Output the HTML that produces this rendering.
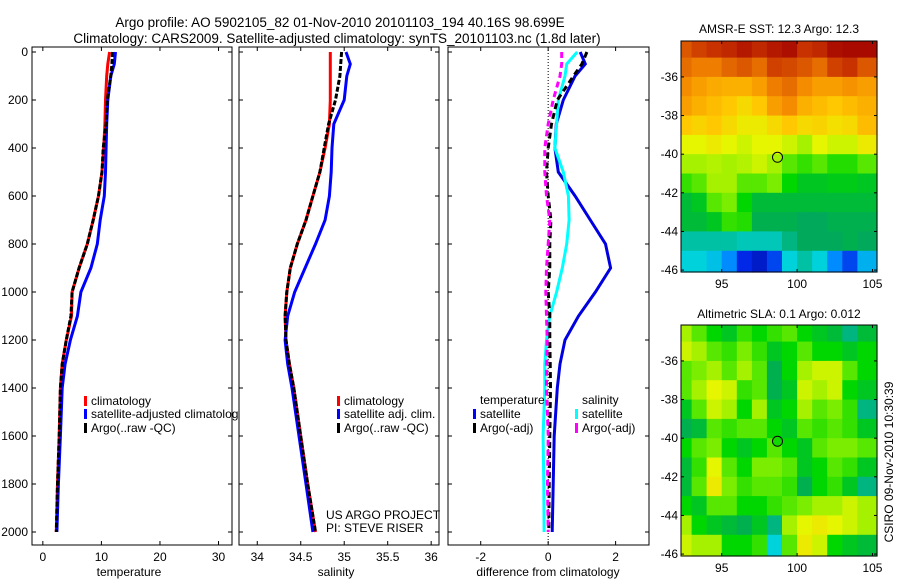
<!DOCTYPE html>
<html><head><meta charset="utf-8">
<style>
html,body{margin:0;padding:0;background:#fff;}
svg{display:block;font-family:"Liberation Sans",sans-serif;}
</style></head>
<body>
<svg id="fig" width="900" height="580" viewBox="0 0 900 580" xmlns="http://www.w3.org/2000/svg">
<defs><clipPath id="c1"><rect x="32" y="40" width="207" height="510"/></clipPath></defs>
<text x="340" y="27" font-size="13.5" text-anchor="middle">Argo profile: AO 5902105_82 01-Nov-2010 20101103_194 40.16S 98.699E</text>
<text x="337" y="43" font-size="13.5" text-anchor="middle">Climatology: CARS2009. Satellite-adjusted climatology: synTS_20101103.nc (1.8d later)</text>
<g id="layer"></g>
<text x="326" y="519" font-size="12">US ARGO PROJECT</text>
<text x="326" y="532" font-size="12">PI: STEVE RISER</text>
<text x="129" y="576" font-size="12" text-anchor="middle">temperature</text>
<text x="336" y="576" font-size="12" text-anchor="middle">salinity</text>
<text x="548" y="576" font-size="12" text-anchor="middle">difference from climatology</text>
<text x="779" y="33" font-size="12" text-anchor="middle">AMSR-E SST: 12.3 Argo: 12.3</text>
<text x="779" y="318" font-size="12" text-anchor="middle">Altimetric SLA: 0.1 Argo: 0.012</text>
<text transform="translate(893,462) rotate(-90)" font-size="12" text-anchor="middle">CSIRO 09-Nov-2010 10:30:39</text>
</svg>
<script>
const depths=[0,50,100,200,300,400,500,600,700,800,900,1000,1100,1200,1300,1400,1600,1800,2000];
const tempClim=[11.4,11.1,10.9,10.7,10.6,10.4,10.1,9.5,8.6,7.6,6.2,5.0,4.9,4.0,3.3,3.0,2.8,2.5,2.3];
const tempSat=[12.4,12.2,11.6,11.1,10.9,10.8,10.7,10.5,9.8,9.3,8.2,6.5,5.9,4.7,3.8,3.3,3.0,2.65,2.4];
const tempArgo=[11.9,11.8,11.6,11.0,10.8,10.3,10.1,9.5,8.6,7.6,6.2,5.0,4.8,4.0,3.3,3.0,2.8,2.5,2.3];
const salClim=[34.84,34.84,34.84,34.84,34.83,34.78,34.72,34.64,34.56,34.46,34.38,34.34,34.32,34.33,34.37,34.42,34.5,34.58,34.67];
const salSat=[35.02,35.07,35.03,35.0,34.88,34.86,34.85,34.83,34.78,34.67,34.55,34.43,34.35,34.32,34.35,34.4,34.48,34.56,34.64];
const salArgo=[34.97,34.96,34.95,34.9,34.82,34.77,34.72,34.64,34.56,34.46,34.38,34.34,34.32,34.33,34.37,34.42,34.5,34.58,34.67];
const dTempSat=[0.95,1.1,0.8,0.45,0.24,0.2,0.3,0.8,1.25,1.7,1.85,1.4,0.9,0.5,0.35,0.27,0.18,0.15,0.12];
const dTempArgo=[1.15,1.0,0.75,0.27,0.1,0.0,-0.05,0.0,0.08,0.05,0.05,0.0,0.05,0.05,0.06,0.07,0.05,0.03,0.02];
const dSalSat=[0.86,0.55,0.5,0.3,0.25,0.2,0.45,0.6,0.62,0.55,0.42,0.25,0.05,-0.05,-0.1,-0.1,-0.15,-0.13,-0.12];
const dSalArgo=[0.4,0.4,0.35,0.15,0.0,-0.1,-0.1,-0.05,0.05,0.0,-0.05,-0.07,-0.05,-0.03,-0.04,-0.05,0.0,-0.02,0.0];
const depthTicks=[0,200,400,600,800,1000,1200,1400,1600,1800,2000];
const tempTicks=[0,10,20,30];
const salTicks=[34,34.5,35,35.5,36];
const salTickLabels=["34","34.5","35","35.5","36"];
const diffTicks=[-2,0,2];
const lonTicks=[95,100,105];
const latTicks=[-36,-38,-40,-42,-44,-46];
const mapLons=[92.5,93.5,94.5,95.5,96.5,97.5,98.5,99.5,100.5,101.5,102.5,103.5,104.5];
const mapLats=[-34.5,-35.5,-36.5,-37.5,-38.5,-39.5,-40.5,-41.5,-42.5,-43.5,-44.5,-45.5];
const sstGrid=[
[.85,.88,.9,.92,.95,.92,.95,.97,.9,.92,.97,.98,.98],
[.82,.8,.8,.83,.85,.82,.88,.87,.85,.82,.88,.9,.85],
[.78,.75,.73,.72,.72,.75,.8,.82,.78,.75,.75,.77,.75],
[.75,.72,.7,.68,.65,.68,.75,.78,.72,.7,.68,.7,.72],
[.68,.66,.68,.65,.62,.62,.65,.68,.65,.66,.64,.65,.7],
[.6,.6,.62,.6,.58,.6,.6,.58,.55,.6,.58,.58,.62],
[.55,.55,.56,.55,.56,.58,.55,.5,.48,.5,.47,.47,.5],
[.48,.5,.55,.55,.5,.5,.52,.45,.42,.42,.43,.43,.42],
[.4,.42,.5,.52,.45,.4,.4,.4,.4,.4,.4,.4,.4],
[.4,.4,.42,.48,.47,.38,.38,.38,.37,.37,.38,.38,.38],
[.33,.33,.33,.33,.32,.32,.32,.35,.37,.37,.37,.38,.37],
[.3,.3,.28,.22,.12,.08,.15,.3,.33,.3,.22,.15,.26]];
const slaGrid=[
[.55,.5,.45,.42,.48,.45,.48,.5,.45,.42,.4,.35,.4],
[.58,.55,.5,.48,.52,.48,.42,.45,.5,.45,.45,.42,.45],
[.5,.52,.55,.5,.55,.5,.38,.45,.55,.58,.58,.5,.45],
[.5,.55,.6,.58,.48,.5,.38,.42,.58,.55,.58,.45,.42],
[.42,.5,.58,.55,.45,.55,.42,.45,.55,.5,.52,.48,.35],
[.38,.4,.5,.48,.5,.5,.45,.42,.5,.48,.5,.48,.42],
[.45,.5,.52,.45,.42,.45,.5,.45,.42,.5,.52,.52,.5],
[.4,.48,.6,.5,.45,.52,.52,.5,.42,.45,.5,.48,.42],
[.4,.5,.62,.52,.48,.5,.5,.48,.38,.45,.48,.42,.35],
[.45,.42,.5,.5,.45,.45,.48,.5,.52,.55,.55,.58,.55],
[.55,.45,.42,.4,.38,.42,.35,.55,.6,.62,.6,.58,.55],
[.58,.55,.55,.45,.45,.48,.3,.5,.62,.58,.45,.42,.4]];
const argoLon=98.7, argoLat=-40.16;

const NS='http://www.w3.org/2000/svg';
const layer=document.getElementById('layer');
function mk(tag,attrs,parent){const e=document.createElementNS(NS,tag);for(const k in attrs)e.setAttribute(k,attrs[k]);(parent||layer).appendChild(e);return e;}
const yTop=52, pxPerM=0.24, yBot=545;
function yD(d){return yTop+d*pxPerM;}
const panels=[
 {x0:32,x1:232,v0:-1.85,v1:32.3},
 {x0:239,x1:439,v0:33.79,v1:36.09},
 {x0:448,x1:649,v0:-2.97,v1:2.99}];
function xf(p){return v=>p.x0+(v-p.v0)/(p.v1-p.v0)*(p.x1-p.x0);}
function line(p,vals,color,dash,name,w){
  const X=xf(p);
  const pts=vals.map((v,i)=>X(v).toFixed(1)+','+yD(depths[i]).toFixed(1)).join(' ');
  const e=mk('polyline',{points:pts,fill:'none',stroke:color,'stroke-width':w||3,'stroke-dasharray':dash||'none'});
  
  
}
function frame(p,xt,xl,name,labelsY){
  const X=xf(p);
  const r=mk('rect',{x:p.x0,y:yTop-5,width:p.x1-p.x0,height:yBot-yTop+5,fill:'none',stroke:'#000','stroke-width':1});
  
  
  xt.forEach((v,i)=>{const x=X(v);
    mk('line',{x1:x,y1:yBot,x2:x,y2:yBot-4,stroke:'#000'});
    mk('line',{x1:x,y1:yTop-5,x2:x,y2:yTop-1,stroke:'#000'});
    const t=mk('text',{x:x,y:yBot+16,'font-size':12,'text-anchor':'middle'});t.textContent=xl[i];
    
    
  });
  depthTicks.forEach(d=>{const y=yD(d);
    mk('line',{x1:p.x0,y1:y,x2:p.x0+4,y2:y,stroke:'#000'});
    mk('line',{x1:p.x1,y1:y,x2:p.x1-4,y2:y,stroke:'#000'});
    if(labelsY){const t=mk('text',{x:p.x0-4,y:y+4,'font-size':12,'text-anchor':'end'});t.textContent=d;
      
      }
  });
}
function legendItem(x,y,color,label,name,parent){
  mk('rect',{x:x,y:y-9,width:3,height:10,fill:color},parent);
  const t=mk('text',{x:x+7,y:y,'font-size':12},parent);t.textContent=label;
  
  
}
const P1=panels[0];
frame(P1,tempTicks,tempTicks.map(String),'temperature-panel',true);
line(P1,tempClim,'#f00',null,'temperature-climatology-line');
line(P1,tempSat,'#00f',null,'temperature-satellite-line');
line(P1,tempArgo,'#000','5,2','temperature-argo-line');
const lg1=mk('g',{'clip-path':'url(#c1)'});
legendItem(84,405,'#f00','climatology','legend-climatology',lg1);
legendItem(84,418,'#00f','satellite-adjusted climatology','legend-satellite-adjusted',lg1);
legendItem(84,432,'#000','Argo(..raw -QC)','legend-argo',lg1);
const P2=panels[1];
frame(P2,salTicks,salTickLabels,'salinity-panel',false);
line(P2,salClim,'#f00',null,'salinity-climatology-line');
line(P2,salSat,'#00f',null,'salinity-satellite-line');
line(P2,salArgo,'#000','5,2','salinity-argo-line');
legendItem(337,405,'#f00','climatology','legend-sal-climatology');
legendItem(337,418,'#00f','satellite adj. clim.','legend-sal-satellite');
legendItem(337,432,'#000','Argo(..raw -QC)','legend-sal-argo');
const P3=panels[2];
frame(P3,diffTicks,diffTicks.map(String),'difference-panel',false);
const X3=xf(P3);
mk('line',{x1:X3(0),y1:yTop-5,x2:X3(0),y2:yBot,stroke:'#000','stroke-dasharray':'1,2'});
line(P3,dTempSat,'#0000e0',null,'diff-temperature-satellite-line');
line(P3,dSalSat,'#0ff',null,'diff-salinity-satellite-line');
line(P3,dTempArgo,'#000','6,4','diff-temperature-argo-line');
line(P3,dSalArgo,'#f0f','6,4','diff-salinity-argo-line');
let t=mk('text',{x:480,y:404,'font-size':12});t.textContent='temperature';


t=mk('text',{x:582,y:404,'font-size':12});t.textContent='salinity';


legendItem(473,418,'#00f','satellite','legend-diff-temp-satellite');
legendItem(473,432,'#000','Argo(-adj)','legend-diff-temp-argo');
legendItem(575,418,'#0ff','satellite','legend-diff-sal-satellite');
legendItem(575,432,'#f0f','Argo(-adj)','legend-diff-sal-argo');
const stops=[[0,[0,0,140]],[.12,[0,40,230]],[.22,[0,140,255]],[.3,[0,210,220]],[.37,[0,170,90]],[.45,[0,215,0]],[.53,[140,240,0]],[.6,[230,245,0]],[.68,[255,200,0]],[.78,[245,140,0]],[.9,[200,50,0]],[1,[160,0,0]]];
function cmap(v){for(let i=1;i<stops.length;i++){if(v<=stops[i][0]){const a=stops[i-1],b=stops[i],f=(v-a[0])/(b[0]-a[0]);return 'rgb('+a[1].map((c,k)=>Math.round(c+(b[1][k]-c)*f)).join(',')+')';}}return 'rgb(160,0,0)';}
function drawMap(grid,y0,y1,name,filled){
  const x0=681,x1=877,lon0=92.3,lon1=105.3;
  const lat0=-34.14, latB=-46.1;
  const LX=lon=>x0+(lon-lon0)/(lon1-lon0)*(x1-x0);
  const LY=lat=>y0+(lat0-lat)*(y1-y0)/(lat0-latB);
  const g=mk('g',{});
  
  
  grid.forEach((row,ri)=>row.forEach((v,ci)=>{
    const xa=ci===0?x0:LX(mapLons[ci]-0.5), xb=ci===row.length-1?x1:LX(mapLons[ci]+0.5);
    const ya=ri===0?y0:LY(mapLats[ri]+0.5), yb=ri===grid.length-1?y1:LY(mapLats[ri]-0.5);
    const c=mk('rect',{x:xa.toFixed(1),y:ya.toFixed(1),width:(xb-xa+0.6).toFixed(1),height:(yb-ya+0.6).toFixed(1),fill:cmap(v)},g);
    
    
  }));
  mk('rect',{x:x0,y:y0,width:x1-x0,height:y1-y0,fill:'none',stroke:'#000'});
  lonTicks.forEach(l=>{const x=LX(l);
    mk('line',{x1:x,y1:y1,x2:x,y2:y1-3,stroke:'#000'});mk('line',{x1:x,y1:y0,x2:x,y2:y0+3,stroke:'#000'});
    const tt=mk('text',{x:x,y:y1+16,'font-size':12,'text-anchor':'middle'});tt.textContent=l;
    
    });
  latTicks.forEach(l=>{const y=LY(l);
    mk('line',{x1:x0,y1:y,x2:x0+3,y2:y,stroke:'#000'});mk('line',{x1:x1,y1:y,x2:x1-3,y2:y,stroke:'#000'});
    const tt=mk('text',{x:x0-3,y:y+4,'font-size':12,'text-anchor':'end'});tt.textContent=l;
    
    });
  const m=mk('circle',{cx:LX(argoLon),cy:LY(argoLat),r:5,fill:filled?cmap(.46):'none',stroke:'#000','stroke-width':1});
  
  
}
drawMap(sstGrid,41,272,'sst-map',false);
drawMap(slaGrid,325,556,'sla-map',true);
</script>
</body></html>
